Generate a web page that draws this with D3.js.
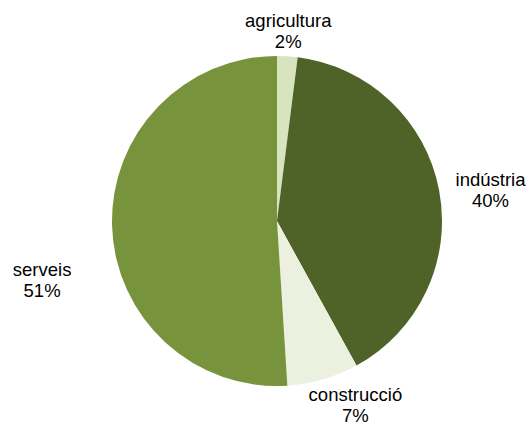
<!DOCTYPE html>
<html><head><meta charset="utf-8">
<script src="https://cdn.jsdelivr.net/npm/d3@7"></script>
<style>html,body{margin:0;padding:0;background:#fff;}svg{display:block;}</style>
</head><body>
<svg id="c" width="531" height="425"></svg>
<script>
const categories = ["agricultura", "indústria", "construcció", "serveis"];
const values = [2, 40, 7, 51];
const labels = ["2%", "40%", "7%", "51%"];
const colors = ["#d7e4bd", "#4f6228", "#ebf1de", "#77933c"];

const W = 531, H = 425, cx = 277, cy = 221, R = 165;
// label placement tweaks (layout, px) relative to point on circle radius R+30
const labelShift = [[-1, 1], [22, 2], [24, -7], [-40, 49]];

const svg = d3.select("#c");
const g = svg.append("g").attr("transform", `translate(${cx},${cy})`);
const pie = d3.pie().sort(null).value(d => d)(values);
const arc = d3.arc().innerRadius(0).outerRadius(R);
g.selectAll("path").data(pie).join("path")
  .attr("d", arc).attr("fill", (d, i) => colors[i]);

const lab = d3.arc().innerRadius(R + 30).outerRadius(R + 30);
const t = g.selectAll("text").data(pie).join("text")
  .attr("text-anchor", "middle")
  .attr("font-family", "Liberation Sans, Arial, sans-serif")
  .attr("font-size", 18.5).attr("fill", "#000")
  .attr("transform", (d, i) => {
    const [x, y] = lab.centroid(d);
    return `translate(${x + labelShift[i][0]},${y + labelShift[i][1]})`;
  });
t.append("tspan").attr("x", 0).attr("dy", 0).text((d, i) => categories[i]);
t.append("tspan").attr("x", 0).attr("dy", 21).text((d, i) => labels[i]);
</script>
</body></html>
